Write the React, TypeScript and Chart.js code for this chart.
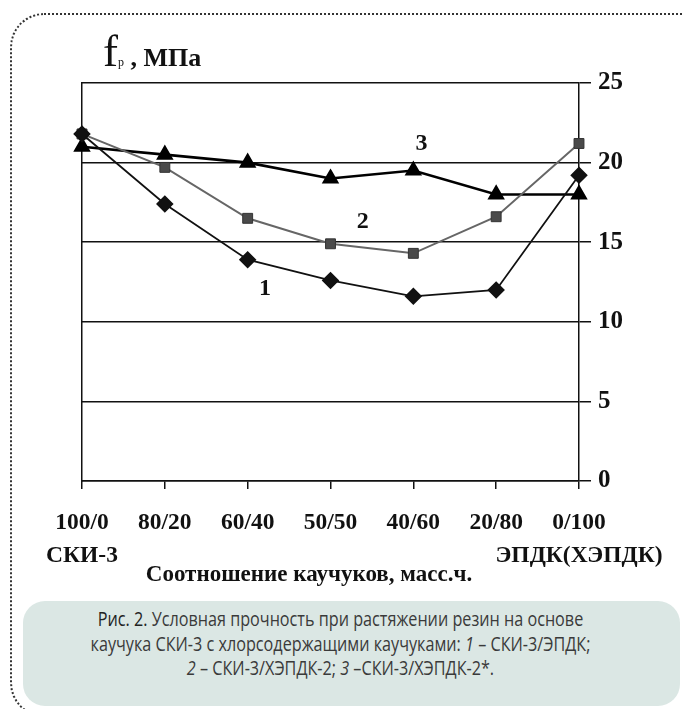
import React, { useEffect, useRef } from "react";
import { Chart, registerables } from "chart.js";
Chart.register(...registerables);

const categories: string[][] = [
  ["100/0", "СКИ-3"],
  ["80/20"],
  ["60/40"],
  ["50/50"],
  ["40/60"],
  ["20/80"],
  ["0/100", "ЭПДК(ХЭПДК)"],
];
const series1 = [21.8, 17.4, 13.9, 12.6, 11.6, 12.0, 19.2];
const series2 = [21.8, 19.7, 16.5, 14.9, 14.3, 16.6, 21.2];
const series3 = [21.0, 20.5, 20.0, 19.0, 19.5, 18.0, 18.0];
const yMin = 0;
const yMax = 25;
const yStep = 5;
const curveLabels = ["1", "2", "3"];
const curveLabelAt: number[][] = [
  [2.21, 12.1],
  [3.39, 16.3],
  [4.1, 21.2],
];

const SERIF = "'Liberation Serif', 'Times New Roman', serif";

const curveLabelPlugin = {
  id: "curveLabels",
  afterDatasetsDraw(chart: any) {
    const { ctx, scales } = chart;
    ctx.save();
    ctx.fillStyle = "#111";
    ctx.font = `bold 24px ${SERIF}`;
    ctx.textAlign = "center";
    ctx.textBaseline = "middle";
    curveLabels.forEach((t, i) => {
      const [ix, v] = curveLabelAt[i];
      ctx.fillText(t, scales.x.getPixelForValue(ix), scales.y.getPixelForValue(v));
    });
    ctx.restore();
  },
};

export default function App() {
  const ref = useRef<HTMLCanvasElement | null>(null);
  useEffect(() => {
    if (!ref.current) return;
    const chart = new Chart(ref.current, {
      type: "line",
      data: {
        labels: categories as any,
        datasets: [
          {
            data: series1,
            borderColor: "#111",
            borderWidth: 1.8,
            pointStyle: "rectRot",
            pointRadius: 7.5,
            pointBackgroundColor: "#111",
            pointBorderColor: "#111",
            clip: false as any,
            yAxisID: "y",
          },
          {
            data: series2,
            borderColor: "#666",
            borderWidth: 2,
            pointStyle: "rect",
            pointRadius: 7,
            pointBackgroundColor: "#4a4a4a",
            pointBorderColor: "#333",
            pointBorderWidth: 1,
            clip: false as any,
            yAxisID: "y",
          },
          {
            data: series3,
            borderColor: "#000",
            borderWidth: 2.6,
            pointStyle: "triangle",
            pointRadius: 7.5,
            pointBackgroundColor: "#000",
            pointBorderColor: "#000",
            clip: false as any,
            yAxisID: "y",
          },
        ],
      },
      options: {
        animation: false,
        responsive: false,
        maintainAspectRatio: false,
        layout: { padding: { left: 82, top: 83, right: 0, bottom: 0 } },
        plugins: { legend: { display: false }, tooltip: { enabled: false } },
        elements: { line: { tension: 0 } },
        scales: {
          x: {
            type: "category",
            offset: false,
            grid: {
              display: true,
              drawOnChartArea: false,
              drawTicks: true,
              tickLength: 8,
              color: "#111",
              lineWidth: 1.5,
            },
            border: { display: true, color: "#111", width: 1.5 },
            ticks: {
              color: "#111",
              font: { family: SERIF, size: 23.5, weight: "bold", lineHeight: 1.38 },
              padding: 18,
              maxRotation: 0,
              minRotation: 0,
              autoSkip: false,
            },
            afterFit: (s: any) => {
              s.height = 119;
              s.paddingLeft = 0;
              s.paddingRight = 0;
            },
          },
          y: {
            position: "right",
            min: yMin,
            max: yMax,
            ticks: {
              stepSize: yStep,
              color: "#111",
              font: { family: SERIF, size: 25, weight: "bold" },
              padding: 7,
            },
            grid: {
              display: true,
              drawOnChartArea: true,
              drawTicks: true,
              tickLength: 12,
              color: "#111",
              lineWidth: 1.5,
            },
            border: { display: true, color: "#111", width: 1.5 },
            afterFit: (s: any) => {
              s.width = 104;
            },
          },
          yl: {
            position: "left",
            min: yMin,
            max: yMax,
            ticks: { display: false },
            grid: { display: true, drawOnChartArea: false, drawTicks: false },
            border: { display: true, color: "#111", width: 1.5 },
            afterFit: (s: any) => {
              s.width = 0;
            },
          },
        },
      } as any,
      plugins: [curveLabelPlugin],
    });
    return () => chart.destroy();
  }, []);

  return (
    <div
      style={{
        position: "fixed",
        left: 0,
        top: 0,
        width: 683,
        height: 709,
        overflow: "hidden",
        background: "#fff",
      }}
    >
      <div
        style={{
          position: "absolute",
          left: 10,
          top: 13,
          width: 720,
          height: 704,
          border: "2px dotted #333",
          borderRadius: 34,
          boxSizing: "border-box",
        }}
      />
      <canvas
        ref={ref}
        width={683}
        height={600}
        style={{ position: "absolute", left: 0, top: 0, width: 683, height: 600 }}
      />
      <div
        style={{
          position: "absolute",
          left: 103,
          top: 29,
          fontFamily: SERIF,
          color: "#111",
          whiteSpace: "nowrap",
          lineHeight: 1,
        }}
      >
        <span style={{ fontSize: 45 }}>f</span>
        <span style={{ fontSize: 12 }}>р</span>
        <span style={{ fontSize: 26, fontWeight: "bold" }}> , МПа</span>
      </div>
      <div
        style={{
          position: "absolute",
          left: 0,
          width: 618,
          top: 560,
          textAlign: "center",
          fontFamily: SERIF,
          fontWeight: "bold",
          fontSize: 23,
          color: "#111",
          lineHeight: "28px",
        }}
      >
        Соотношение каучуков, масс.ч.
      </div>
      <div
        style={{
          position: "absolute",
          left: 23,
          top: 601,
          width: 657,
          height: 105,
          background: "#dbe7e4",
          borderRadius: 22,
          boxSizing: "border-box",
          paddingTop: 6,
          paddingRight: 22,
          textAlign: "center",
          overflow: "hidden",
        }}
      >
        <div
          style={{
            transform: "scaleX(0.83)",
            transformOrigin: "center top",
            whiteSpace: "nowrap",
            fontFamily: "'Open Sans', sans-serif",
            fontSize: 19.5,
            lineHeight: "24.5px",
            color: "#3a3a3a",
          }}
        >
          <span style={{ color: "#222" }}>Рис. 2.</span> Условная прочность при растяжении резин на основе
          <br />
          каучука СКИ-3 с хлорсодержащими каучуками: <i>1</i> – СКИ-3/ЭПДК;
          <br />
          <i>2</i> – СКИ-3/ХЭПДК-2; <i>3</i> –СКИ-3/ХЭПДК-2*.
        </div>
      </div>
    </div>
  );
}
